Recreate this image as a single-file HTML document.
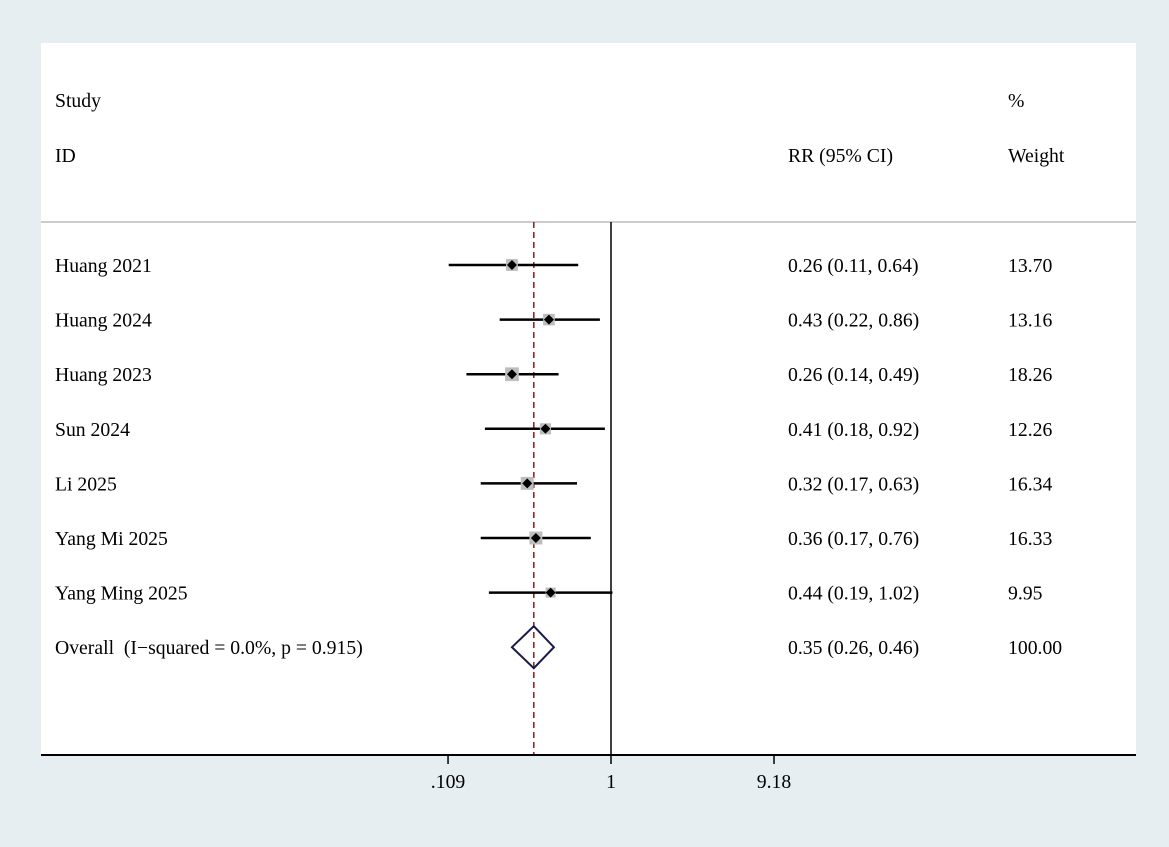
<!DOCTYPE html>
<html><head><meta charset="utf-8"><style>
body{margin:0;background:#e6eef2;}
svg{display:block;font-family:"Liberation Serif",serif;font-size:19.7px;}
text{white-space:pre;}
</style></head><body>
<svg width="1169" height="847">
<rect x="0" y="0" width="1169" height="847" fill="#e6eef2"/>
<rect x="41" y="43" width="1095" height="713" fill="#fff"/>
<g id="g"></g>
</svg>
<script>
const studies=["Huang 2021","Huang 2024","Huang 2023","Sun 2024","Li 2025","Yang Mi 2025","Yang Ming 2025"];
const rr=[0.26,0.43,0.26,0.41,0.32,0.36,0.44];
const lo=[0.11,0.22,0.14,0.18,0.17,0.17,0.19];
const hi=[0.64,0.86,0.49,0.92,0.63,0.76,1.02];
const weights=[13.70,13.16,18.26,12.26,16.34,16.33,9.95];
const overall=[0.35,0.26,0.46];
const ticks=[0.109,1,9.18];
const tickLabels=[".109","1","9.18"];
const NS="http://www.w3.org/2000/svg";
const g=document.getElementById('g');
const X=v=>611+169.3*Math.log10(v);
const rowY=i=>265+54.6*i;
function el(t,a,txt){const e=document.createElementNS(NS,t);for(const k in a)e.setAttribute(k,a[k]);if(txt!==undefined)e.textContent=txt;g.appendChild(e);return e;}
function tx(x,y,s,name){const e=el('text',{x:x,y:y},s);

return e;}
tx(55,107,"Study","header-study");
tx(55,162,"ID","header-id");
tx(788,162,"RR (95% CI)","header-rr");
tx(1008,107,"%","header-percent");
tx(1008,162,"Weight","header-weight");
let e=el('line',{x1:41,x2:1136,y1:222,y2:222,stroke:'#bbb','stroke-width':1.5});


e=el('line',{x1:X(1),x2:X(1),y1:222,y2:755,stroke:'#000','stroke-width':1.5});


e=el('line',{x1:X(overall[0]),x2:X(overall[0]),y1:222,y2:755,stroke:'#8b1a1a','stroke-width':1.5,'stroke-dasharray':'6,4'});


studies.forEach((s,i)=>{
 const y=rowY(i);
 tx(55,y+7,s,'study-label');
 const ci=el('line',{x1:X(lo[i]),x2:X(hi[i]),y1:y,y2:y,stroke:'#000','stroke-width':2.5});
 
 
 const sz=3.2*Math.sqrt(weights[i]);
 const b=el('rect',{x:X(rr[i])-sz/2,y:y-sz/2,width:sz,height:sz,fill:'#bdbdbd'});
 
 
 const x=X(rr[i]);
 const d=el('polygon',{points:`${x-5},${y} ${x},${y-5} ${x+5},${y} ${x},${y+5}`,fill:'#000'});
 
 
 tx(788,y+7,`${rr[i].toFixed(2)} (${lo[i].toFixed(2)}, ${hi[i].toFixed(2)})`,'rr-value');
 tx(1008,y+7,weights[i].toFixed(2),'weight-value');
});
const oy=rowY(7);
tx(55,oy+7,"Overall  (I\u2212squared = 0.0%, p = 0.915)","overall-label");
e=el('polygon',{points:`${X(overall[1])},${oy} ${X(overall[0])},${oy-21} ${X(overall[2])},${oy} ${X(overall[0])},${oy+21}`,fill:'none',stroke:'#1a1a4a','stroke-width':2});


tx(788,oy+7,`${overall[0].toFixed(2)} (${overall[1].toFixed(2)}, ${overall[2].toFixed(2)})`,'overall-rr');
tx(1008,oy+7,"100.00",'overall-weight');
e=el('line',{x1:41,x2:1136,y1:755,y2:755,stroke:'#000','stroke-width':2});


ticks.forEach((t,i)=>{
 const tk=el('line',{x1:X(t),x2:X(t),y1:755,y2:764,stroke:'#000','stroke-width':1.5});
 
 
 const l=tx(X(t),788,tickLabels[i],'x-tick-label');
 l.setAttribute('text-anchor','middle');
});
</script>
</body></html>
